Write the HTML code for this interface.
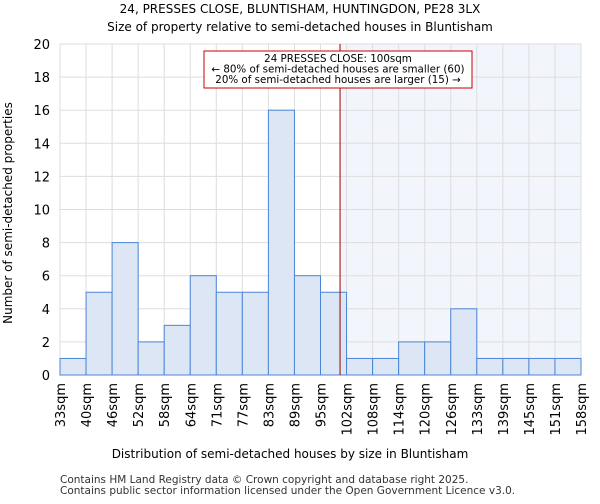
<!DOCTYPE html>
<html><head><meta charset="utf-8"><style>
body{margin:0;background:#fff;font-family:"DejaVu Sans","Liberation Sans",sans-serif;}
svg text{font-family:"DejaVu Sans","Liberation Sans",sans-serif;}
</style></head><body>
<svg id="c" width="600" height="500">
<text x="300" y="13" text-anchor="middle" font-size="12">24, PRESSES CLOSE, BLUNTISHAM, HUNTINGDON, PE28 3LX</text>
<text x="300" y="31" text-anchor="middle" font-size="12">Size of property relative to semi-detached houses in Bluntisham</text>
<g id="grid"></g><g id="bars"></g><g id="axes"></g>
<text x="290" y="458" text-anchor="middle" font-size="12">Distribution of semi-detached houses by size in Bluntisham</text>
<text transform="translate(12,213) rotate(-90)" text-anchor="middle" font-size="12">Number of semi-detached properties</text>
<text x="60" y="483" font-size="10.5" fill="#333">Contains HM Land Registry data © Crown copyright and database right 2025.</text>
<text x="60" y="494" font-size="10.5" fill="#333">Contains public sector information licensed under the Open Government Licence v3.0.</text>
</svg>
<script>
const categories=["33sqm","40sqm","46sqm","52sqm","58sqm","64sqm","71sqm","77sqm","83sqm","89sqm","95sqm","102sqm","108sqm","114sqm","120sqm","126sqm","133sqm","139sqm","145sqm","151sqm","158sqm"];
const counts=[1,5,8,2,3,6,5,5,16,6,5,1,1,2,2,4,1,1,1,1];
const yTicks=[0,2,4,6,8,10,12,14,16,18,20];
const markerBin=10.75;
const NS="http://www.w3.org/2000/svg";
const L=60,R=581,T=44,B=375,yMax=20;
const n=counts.length,bw=(R-L)/n;
const xs=i=>L+i*bw, ys=v=>B-(v/yMax)*(B-T);
function mk(tag,a,p){const e=document.createElementNS(NS,tag);for(const k in a)e.setAttribute(k,a[k]);p.appendChild(e);return e;}
const g=document.getElementById('grid'),b=document.getElementById('bars'),ax=document.getElementById('axes');
const mx=xs(markerBin);
let sh=mk('rect',{x:mx,y:T,width:R-mx,height:B-T,fill:"#f3f5fd"},g);


yTicks.forEach(v=>{let l=mk('line',{x1:L,x2:R,y1:ys(v),y2:ys(v),stroke:"#ddd"},g);


let t=mk('text',{x:L-10,y:ys(v)+5,"text-anchor":"end","font-size":"13"},ax);t.textContent=v;

});
categories.forEach((c,i)=>{let l=mk('line',{x1:xs(i),x2:xs(i),y1:T,y2:B,stroke:"#ddd"},g);


let t=mk('text',{transform:`translate(${xs(i)+5},${B+8}) rotate(-90)`,"text-anchor":"end","font-size":"13"},ax);t.textContent=c;

});
counts.forEach((v,i)=>{let r=mk('rect',{x:xs(i),y:ys(v),width:bw,height:B-ys(v),fill:"#dce6f4",stroke:"#4a86d8","stroke-width":1},b);

});
let ml=mk('line',{x1:mx,x2:mx,y1:T,y2:B,stroke:"#900",
"stroke-width":1},ax);


let bx=mk('rect',{x:204,y:51,width:268,height:37,fill:"#fff",stroke:"#c00"},ax);


["24 PRESSES CLOSE: 100sqm","← 80% of semi-detached houses are smaller (60)","20% of semi-detached houses are larger (15) →"].forEach((s,i)=>{let t=mk('text',{x:338,y:62+i*10.5,"text-anchor":"middle","font-size":"10.3"},ax);t.textContent=s;

});
</script>
</body></html>
